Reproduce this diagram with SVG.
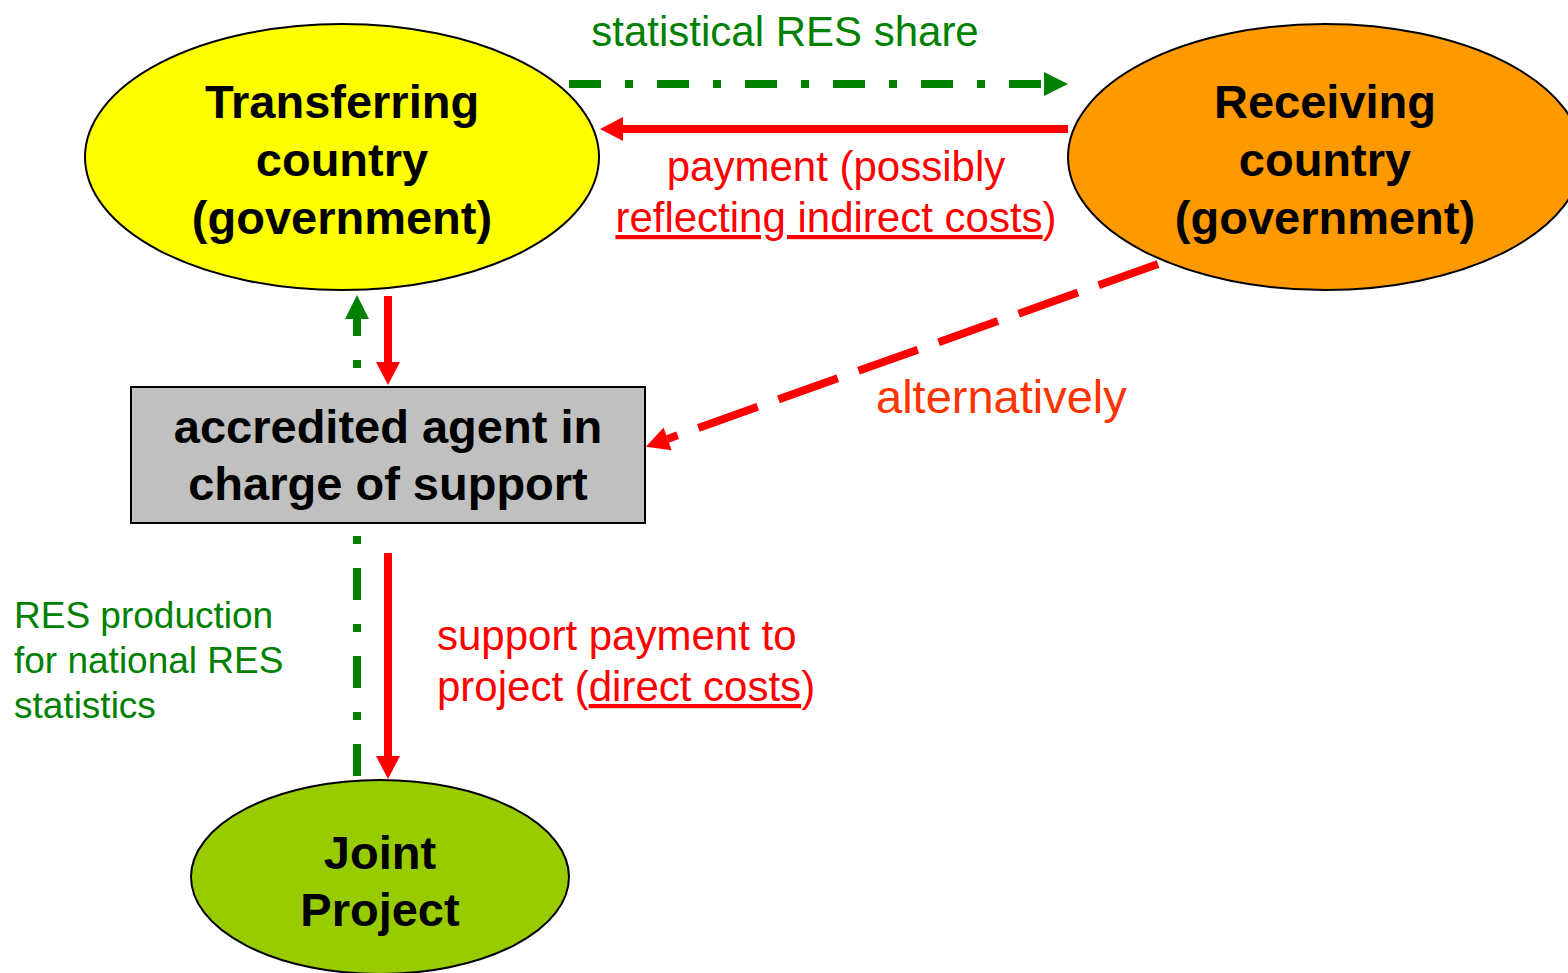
<svg xmlns="http://www.w3.org/2000/svg" width="1568" height="973" viewBox="0 0 1568 973">
<style>
.node{stroke:#000;stroke-width:2}
.big{font-family:"Liberation Sans",Arial,sans-serif;font-weight:bold;font-size:47px;fill:#000;text-anchor:middle}
.lbl{font-family:"Liberation Sans",Arial,sans-serif;font-size:42px}
.alt{font-size:47px;fill:#FF3300}
.sm{font-size:37px}
.g{fill:#008000}
.r{fill:#FF0000}
.gl{stroke:#008000;stroke-width:8;fill:none;stroke-dasharray:32 24 8 24}
.gv{stroke:#008000;stroke-width:8;fill:none;stroke-dasharray:8 24 32 24}
.rl{stroke:#FF0000;stroke-width:8;fill:none}
</style>
<defs>
<marker id="ag" markerUnits="userSpaceOnUse" markerWidth="24" markerHeight="24" refX="0" refY="12" orient="auto" overflow="visible"><path d="M0,0 L24,12 L0,24 Z" fill="#008000"/></marker>
<marker id="ar" markerUnits="userSpaceOnUse" markerWidth="24" markerHeight="24" refX="0" refY="12" orient="auto" overflow="visible"><path d="M0,0 L23,12 L0,24 Z" fill="#FF0000"/></marker>
</defs>
<rect width="1568" height="973" fill="#fff"/>
<g id="transferring">
<ellipse class="node" cx="342" cy="157" rx="257" ry="133" fill="#FFFF00"/>
<text class="big" x="342" y="118">Transferring</text>
<text class="big" x="342" y="176">country</text>
<text class="big" x="342" y="234">(government)</text>
</g>
<g id="receiving">
<ellipse class="node" cx="1325" cy="157" rx="257" ry="133" fill="#FF9900"/>
<text class="big" x="1325" y="118">Receiving</text>
<text class="big" x="1325" y="176">country</text>
<text class="big" x="1325" y="234">(government)</text>
</g>
<g id="agent">
<rect class="node" x="131" y="387" width="514" height="136" fill="#C0C0C0" stroke="#333"/>
<text class="big" x="388" y="443">accredited agent in</text>
<text class="big" x="388" y="500">charge of support</text>
</g>
<g id="joint">
<ellipse class="node" cx="380" cy="877" rx="189" ry="97" fill="#99CC00"/>
<text class="big" x="380" y="869">Joint</text>
<text class="big" x="380" y="926">Project</text>
</g>
<g id="connectors">
<line class="gl" x1="569" y1="84" x2="1044" y2="84" marker-end="url(#ag)"/>
<line class="rl" x1="1068" y1="129" x2="623" y2="129" marker-end="url(#ar)"/>
<line class="gv" x1="357" y1="368" x2="357" y2="319" marker-end="url(#ag)"/>
<line class="rl" x1="388" y1="296" x2="388" y2="362" marker-end="url(#ar)"/>
<line class="gv" x1="357" y1="536" x2="357" y2="776"/>
<line class="rl" x1="388" y1="553" x2="388" y2="756" marker-end="url(#ar)"/>
<line class="rl" x1="1158" y1="264" x2="667.6" y2="438.9" stroke-dasharray="63 22" marker-end="url(#ar)"/>
</g>
<g id="labels">
<text class="lbl g" x="785" y="46" text-anchor="middle">statistical RES share</text>
<text class="lbl r" x="836" y="181" text-anchor="middle">payment (possibly</text>
<text class="lbl r" x="836" y="232" text-anchor="middle"><tspan text-decoration="underline">reflecting indirect costs</tspan>)</text>
<text class="lbl alt" x="876" y="413">alternatively</text>
<text class="lbl r" x="437" y="650">support payment to</text>
<text class="lbl r" x="437" y="701">project (<tspan text-decoration="underline">direct costs</tspan>)</text>
<text class="lbl g sm" x="14" y="628">RES production</text>
<text class="lbl g sm" x="14" y="673">for national RES</text>
<text class="lbl g sm" x="14" y="718">statistics</text>
</g>
</svg>
